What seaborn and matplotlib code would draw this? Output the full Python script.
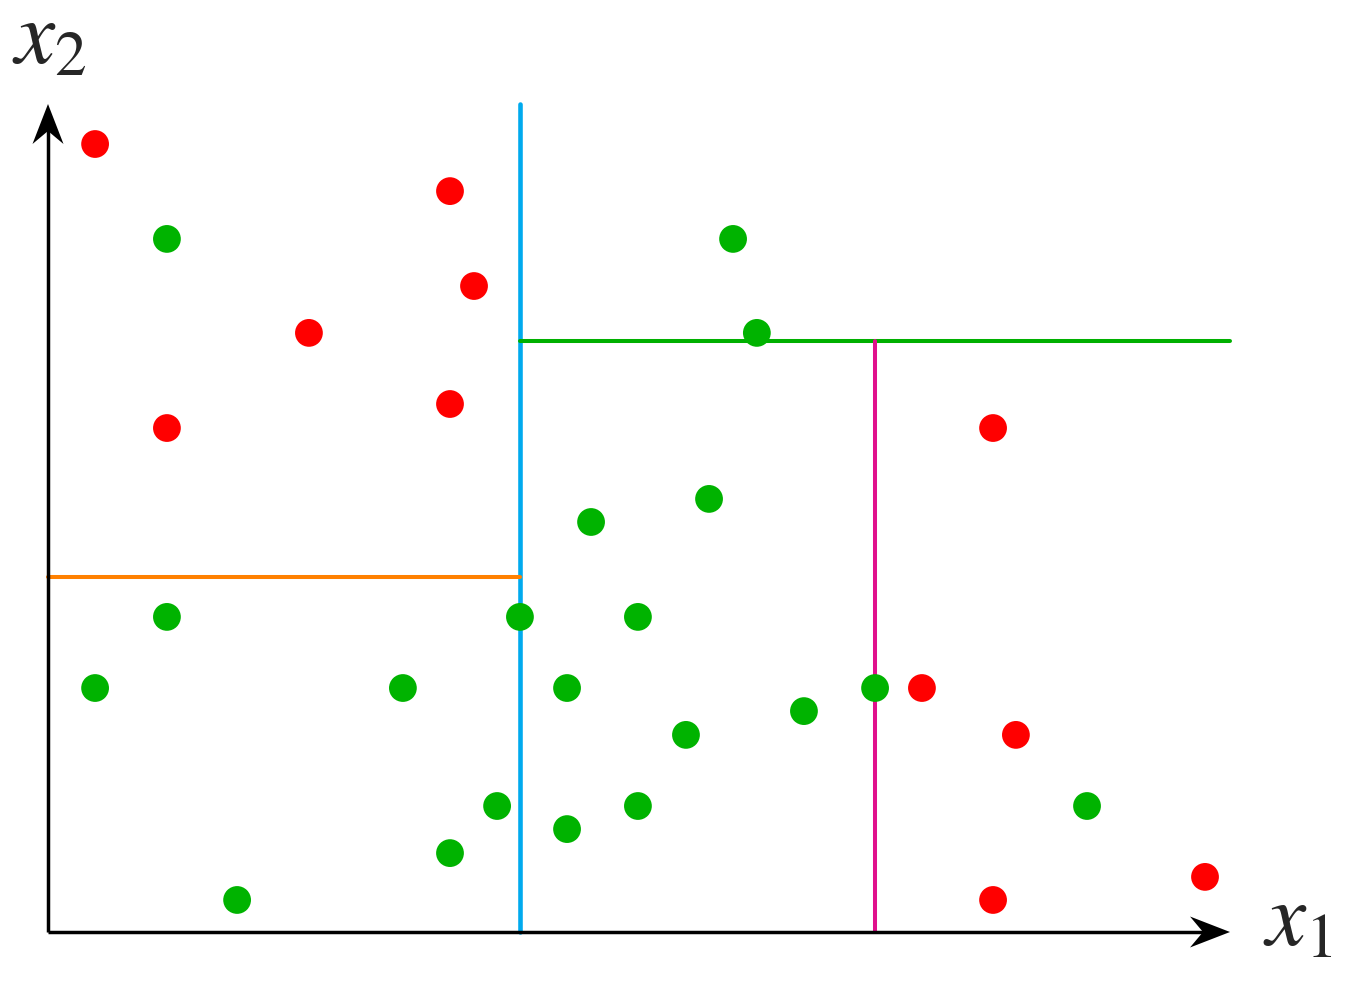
import numpy as np
import pandas as pd
import seaborn as sns
import matplotlib.pyplot as plt

# points of the two classes (x1, x2), in grid units
red_x1 = [2.0, 17.07, 18.09, 11.08, 17.07, 5.05, 40.13, 37.11, 41.1, 40.13, 49.13]
red_x2 = [33.46, 31.46, 27.43, 25.44, 22.42, 21.40, 21.40, 10.36, 8.37, 1.36, 2.34]

green_x1 = [5.05, 29.09, 30.1, 28.07, 23.06, 5.05, 20.04, 25.05, 2.0, 15.07,
            22.04, 35.12, 32.1, 27.09, 19.07, 25.05, 44.12, 22.04, 17.07, 8.03]
green_x2 = [29.43, 29.43, 25.44, 18.39, 17.41, 13.38, 13.38, 13.38, 10.36, 10.36,
            10.36, 10.36, 9.38, 8.37, 5.35, 5.35, 5.35, 4.37, 3.35, 1.36]

# split lines of the tree
split_x1 = 20.04      # first split (blue)
split_left_x2 = 15.07  # left branch (orange)
split_right_x2 = 25.1  # right branch (green)
split_right_x1 = 35.12  # lower right branch (magenta)
x1_max = 50.19
x2_max = 35.16

df = pd.DataFrame({
    'x1': red_x1 + green_x1,
    'x2': red_x2 + green_x2,
    'cls': ['red'] * len(red_x1) + ['green'] * len(green_x1),
})

sns.set_style('white')
W, H, u = 1358, 990, 23.55   # pixels, pixels per unit
ox, oy = 48, 932
fig = plt.figure(figsize=(W / 100, H / 100), dpi=100)
ax = fig.add_axes([0, 0, 1, 1])
ax.set_xlim(-ox / u, (W - ox) / u)
ax.set_ylim(-(H - oy) / u, oy / u)
ax.axis('off')

# split lines
ax.plot([split_x1, split_x1], [0, x2_max], color='#00AAEE', lw=3.3, zorder=2)
ax.plot([0, split_x1], [split_left_x2, split_left_x2], color='#FF8000', lw=2.9, zorder=2)
ax.plot([split_x1, x1_max], [split_right_x2, split_right_x2], color='#00B000', lw=2.9, zorder=2)
ax.plot([split_right_x1, split_right_x1], [0, split_right_x2], color='#E0108C', lw=2.9, zorder=2)

sns.scatterplot(data=df, x='x1', y='x2', hue='cls',
                palette={'red': '#FF0000', 'green': '#00B300'},
                s=400, linewidth=0, legend=False, ax=ax, zorder=3)

# axes with stealth arrow heads
tip = 1230 - ox
ax.plot([0, tip / u - 1.0], [0, 0], color='black', lw=2.5, zorder=4, solid_capstyle='butt')
ax.plot([0, 0], [0, (oy - 104) / u - 1.0], color='black', lw=2.5, zorder=4, solid_capstyle='butt')
L, hw, notch = 40 / u, 15.5 / u, 27 / u
tx = tip / u
ax.fill([tx, tx - L, tx - notch, tx - L], [0, hw, 0, -hw], color='black', lw=0, zorder=5)
ty = (oy - 104) / u
ax.fill([0, hw, 0, -hw], [ty, ty - L, ty - notch, ty - L], color='black', lw=0, zorder=5)

plt.rcParams['mathtext.fontset'] = 'stix'
ax.text((1263 - ox) / u, (oy - 945) / u, r'$x_1$', fontsize=65, ha='left', va='baseline')
ax.text((12 - ox) / u, (oy - 63) / u, r'$x_2$', fontsize=65, ha='left', va='baseline')

fig.savefig('out.png', dpi=100)
